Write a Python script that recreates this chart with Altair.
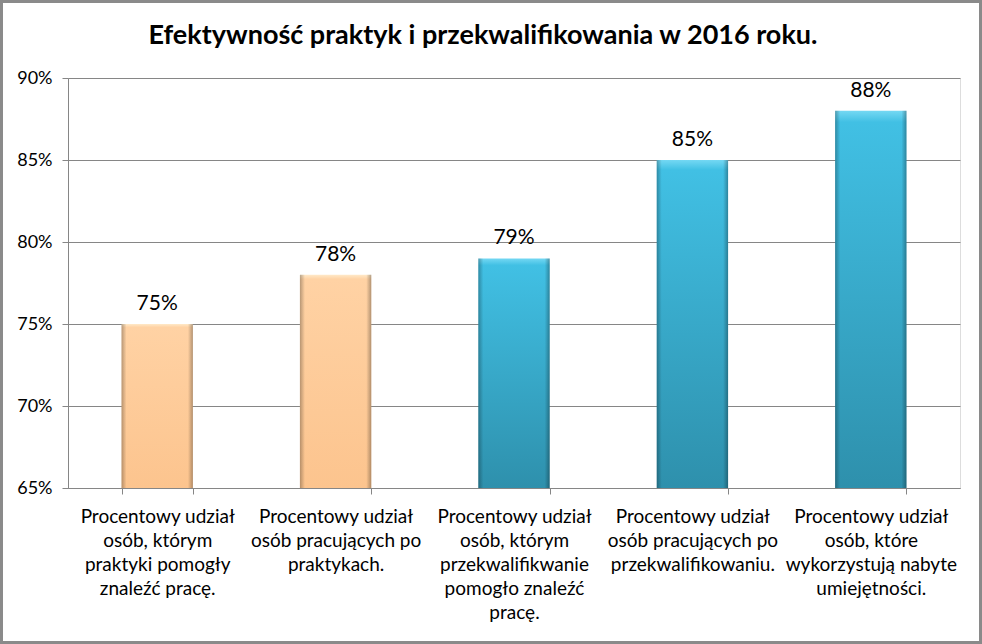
import altair as alt
import pandas as pd

title_text = "Efektywność praktyk i przekwalifikowania w 2016 roku."
categories = [
    "Procentowy udział\nosób, którym\npraktyki pomogły\nznaleźć pracę.",
    "Procentowy udział\nosób pracujących po\npraktykach.",
    "Procentowy udział\nosób, którym\nprzekwalifikwanie\npomogło znaleźć\npracę.",
    "Procentowy udział\nosób pracujących po\nprzekwalifikowaniu.",
    "Procentowy udział\nosób, które\nwykorzystują nabyte\numiejętności.",
]
values = [0.75, 0.78, 0.79, 0.85, 0.88]
groups = ["praktyki", "praktyki", "przekwalifikowanie", "przekwalifikowanie", "przekwalifikowanie"]
y_ticks = [0.65, 0.70, 0.75, 0.80, 0.85, 0.90]
y_min, y_max = 0.65, 0.90

df = pd.DataFrame({"kategoria": categories, "wartosc": values, "grupa": groups})

FONT = "Lato"
GRID = "#868686"

x_enc = alt.X(
    "kategoria:N",
    sort=categories,
    title=None,
    scale=alt.Scale(paddingInner=0.6, paddingOuter=0.3),
    axis=alt.Axis(
        labelAngle=0,
        labelExpr="split(datum.label, '\\n')",
        labelFont=FONT,
        labelFontSize=19,
        labelColor="#000000",
        labelLineHeight=24,
        labelBaseline="top",
        labelPadding=13,
        labelLimit=300,
        tickBand="extent",
        tickSize=6,
        tickColor=GRID,
        domainColor=GRID,
        grid=False,
    ),
)
y_enc = alt.Y(
    "wartosc:Q",
    title=None,
    scale=alt.Scale(domain=[y_min, y_max], zero=False, nice=False),
    axis=alt.Axis(
        values=y_ticks,
        format=".0%",
        labelFont=FONT,
        labelFontSize=18,
        labelColor="#000000",
        labelPadding=10,
        tickSize=6,
        tickColor=GRID,
        domainColor=GRID,
        gridColor=GRID,
        gridWidth=1,
    ),
)

base = alt.Chart(df).encode(x=x_enc, y=y_enc)

orange_fill = alt.Gradient(
    gradient="linear", x1=0, y1=0, x2=0, y2=1,
    stops=[
        alt.GradientStop(offset=0, color="#FFE9C8"),
        alt.GradientStop(offset=0.02, color="#FFD2A4"),
        alt.GradientStop(offset=1, color="#FCC48E"),
    ],
)
blue_fill = alt.Gradient(
    gradient="linear", x1=0, y1=0, x2=0, y2=1,
    stops=[
        alt.GradientStop(offset=0, color="#74D8F3"),
        alt.GradientStop(offset=0.03, color="#41C0E4"),
        alt.GradientStop(offset=1, color="#2E90AC"),
    ],
)
edge_shade = alt.Gradient(
    gradient="linear", x1=0, y1=0, x2=1, y2=0,
    stops=[
        alt.GradientStop(offset=0, color="rgba(0,0,0,0.28)"),
        alt.GradientStop(offset=0.07, color="rgba(0,0,0,0)"),
        alt.GradientStop(offset=0.93, color="rgba(0,0,0,0)"),
        alt.GradientStop(offset=1, color="rgba(0,0,0,0.3)"),
    ],
)

bars_orange = base.transform_filter(alt.datum.grupa == "praktyki").mark_bar(
    fill=orange_fill).encode(y2=alt.datum(y_min))
bars_blue = base.transform_filter(alt.datum.grupa == "przekwalifikowanie").mark_bar(
    fill=blue_fill).encode(y2=alt.datum(y_min))
bars_edge = base.mark_bar(fill=edge_shade).encode(y2=alt.datum(y_min))

labels = base.mark_text(
    font=FONT, fontSize=21, color="#000000", baseline="bottom", dy=-10
).encode(text=alt.Text("wartosc:Q", format=".0%"))

one = pd.DataFrame({"t": [title_text]})

title_mark = alt.Chart(one).mark_text(
    font=FONT, fontSize=27, fontWeight="bold", color="#000000",
    align="center", baseline="alphabetic",
).encode(text="t:N", x=alt.value(415), y=alt.value(-34))

frame = alt.Chart(one).mark_rect(
    fillOpacity=0, stroke="#8a8a8a", strokeWidth=3
).encode(
    x=alt.value(-66.5), x2=alt.value(912.5),
    y=alt.value(-76.5), y2=alt.value(564.5),
)

chart = alt.layer(bars_orange, bars_blue, bars_edge, labels, title_mark, frame).properties(
    width=892,
    height=410,
    autosize=alt.AutoSizeParams(type="none"),
    padding={"left": 68, "top": 78, "right": 22, "bottom": 156},
).configure_view(stroke=None).configure(background="#ffffff")

chart.save("out.html", embed_options={"renderer": "svg", "actions": False})
